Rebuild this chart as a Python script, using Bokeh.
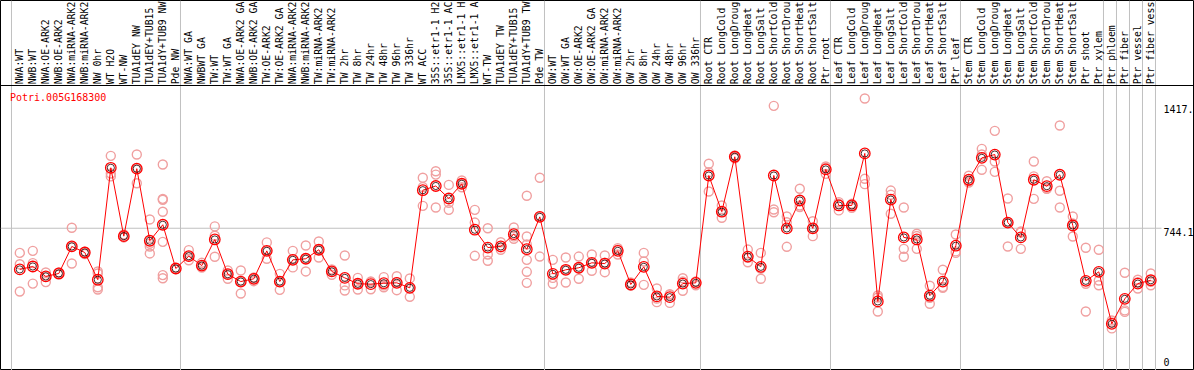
import math
from bokeh.plotting import figure
from bokeh.models import Range1d
from bokeh.core.properties import value
from bokeh.embed import file_html
from bokeh.resources import INLINE

# ---------------- data ----------------
gene = "Potri.005G168300"

# category labels as far as they are visible in the header
cats = [
    "NWA:WT", "NWB:WT", "NWA:OE-ARK2", "NWB:OE-ARK2", "NWA:miRNA-ARK2", "NWB:miRNA-ARK2",
    "NW 0hr", "WT H2O", "WT-NW", "TUA1dEY NW", "TUA1dEY+TUB15", "TUA1dY+TUB9 NW", "Pde NW",
    "NWA:WT GA", "NWBWT GA", "TW:WT", "TW:WT GA", "NWA:OE-ARK2 GA", "NWB:OE-ARK2 GA",
    "TW:OE-ARK2", "TW:OE-ARK2 GA", "NWA:miRNA-ARK2", "NWB:miRNA-ARK2", "TW:miRNA-ARK2",
    "TW:miRNA-ARK2", "TW 2hr", "TW 8hr", "TW 24hr", "TW 48hr", "TW 96hr", "TW 336hr", "WT ACC",
    "35S::etr1-1 H2", "35S::etr1-1 AC", "LMX5::etr1-1 H", "LMX5::etr1-1 A", "WT-TW",
    "TUA1dEY TW", "TUA1dEY+TUB15", "TUA1dY+TUB9 TW", "Pde TW",
    "OW:WT", "OW:WT GA", "OW:OE-ARK2", "OW:OE-ARK2 GA", "OW:miRNA-ARK2", "OW:miRNA-ARK2",
    "OW 2hr", "OW 8hr", "OW 24hr", "OW 48hr", "OW 96hr", "OW 336hr",
    "Root CTR", "Root LongCold", "Root LongDroug", "Root LongHeat", "Root LongSalt",
    "Root ShortCold", "Root ShortDrou", "Root ShortHeat", "Root ShortSalt", "Ptr root",
    "Leaf CTR", "Leaf LongCold", "Leaf LongDroug", "Leaf LongHeat", "Leaf LongSalt",
    "Leaf ShortCold", "Leaf ShortDrou", "Leaf ShortHeat", "Leaf ShortSalt", "Ptr leaf",
    "Stem CTR", "Stem LongCold", "Stem LongDroug", "Stem LongHeat", "Stem LongSalt",
    "Stem ShortCold", "Stem ShortDrou", "Stem ShortHeat", "Stem ShortSalt", "Ptr shoot",
    "Ptr xylem", "Ptr phloem", "Ptr fiber", "Ptr vessel", "Ptr fiber vess",
]

means = [
    520, 536, 482, 498, 645, 612, 464, 1073, 701, 1068, 676, 763, 525,
    592, 541, 683, 494, 454, 469, 621, 454, 572, 578, 627, 509, 474, 442, 440, 445, 447, 420,
    951, 974, 906, 986, 736, 639, 645, 712, 630, 806,
    496, 518, 529, 556, 552, 621, 438, 534, 373, 369, 443, 447,
    1031, 834, 1133, 590, 534, 1031, 743, 895, 743, 1064,
    868, 868, 1151, 346, 900, 694, 683, 377, 454, 649,
    1008, 1127, 1145, 775, 694, 1008, 973, 1035, 759, 458,
    507, 224, 360, 443, 461,
]

reps = [
    [610, 548, 400], [621, 554, 443], [503, 481, 451], [503, 496, 492], [747, 645, 552],
    [616, 612, 603], [509, 498, 423, 411], [1138, 1042, 1026], [710, 699, 694],
    [1145, 1068, 989], [792, 660, 645, 607], [1091, 904, 899, 834, 670, 489, 472], [528, 522],
    [625, 592, 570], [556, 541, 530], [754, 703, 589], [514, 494, 469], [514, 454, 389],
    [476, 469, 456], [667, 621, 578], [496, 454, 409], [621, 572, 531], [650, 578, 509],
    [672, 627, 585], [520, 509, 491], [596, 433, 405], [474, 442, 411], [454, 452, 412],
    [478, 434, 423], [483, 451, 407], [471, 418, 371], [1019, 968, 866], [1054, 1036, 857],
    [980, 883, 844], [1004, 986, 967], [844, 775, 594], [744, 601, 567], [668, 640, 627],
    [748, 700, 687], [921, 699, 656, 572, 507, 447], [1019, 806, 590],
    [572, 474, 442], [585, 518, 449], [590, 527, 469], [601, 554, 513], [596, 556, 505],
    [636, 627, 601], [449, 433, 432], [610, 563, 436], [416, 361, 342], [385, 383, 338],
    [472, 454, 404], [454, 453, 434],
    [1095, 1049, 944], [868, 832, 801], [1140, 1133, 1125], [628, 583, 559], [610, 524, 469],
    [1410, 846, 831], [808, 777, 643], [959, 868, 859], [782, 745, 701], [1080, 1074, 1040],
    [886, 877, 841], [877, 868, 855], [1450, 1013, 984], [378, 367, 291], [949, 926, 823],
    [857, 632, 589], [714, 702, 632], [431, 366, 333], [518, 425, 420], [710, 618, 610],
    [1030, 1000, 993], [1176, 1145, 1062], [1274, 1107, 1051], [906, 775, 645], [726, 721, 632],
    [1107, 1026, 904], [1000, 960, 959], [1303, 948, 857], [808, 770, 699], [638, 442, 291],
    [627, 460, 434], [242, 232, 199], [502, 297, 289], [464, 450, 416], [498, 452, 434],
]

group_starts = [0, 13, 41, 53, 63, 73, 84, 85, 86, 87, 88]
grid_value = 744.1
tick_values_top = [1417, 744.1]
tick_labels_top = ["1417.", "744.1"]
tick_values_bottom = [0]
tick_labels_bottom = ["0"]

# ---------------- layout ----------------
W, H = 1194, 370
PX = 13.0            # pixels per category
VPP = 5.4407         # data units per pixel (vertical)
x_lo = -19.3 / PX
x_hi = x_lo + W / PX
y_lo = -5.5 * VPP
y_hi = y_lo + H * VPP

def ypix(pix):       # data value at a pixel row counted from the top
    return y_hi - pix * VPP

def xpix(pix):
    return x_lo + pix / PX

n = len(cats)
idx = list(range(n))
FONT = value("DejaVu Sans Mono")

p = figure(width=W, height=H, x_range=Range1d(x_lo, x_hi), y_range=Range1d(y_lo, y_hi),
           output_backend="svg", toolbar_location=None, min_border=0,
           x_axis_location=None, y_axis_location=None)
p.grid.visible = False
p.outline_line_color = "black"
p.outline_line_width = 1
p.background_fill_color = "white"
p.border_fill_color = "white"

# group separators (full height)
gx = [g - 0.64 for g in group_starts]
p.segment(x0=gx, y0=[y_lo] * len(gx), x1=gx, y1=[y_hi] * len(gx), line_color="#c0c0c0", line_width=1)

# horizontal reference line
p.segment(x0=[x_lo], y0=[grid_value], x1=[n - 0.18], y1=[grid_value], line_color="#c0c0c0", line_width=1)

# header separator
p.segment(x0=[x_lo], y0=[ypix(85)], x1=[x_hi], y1=[ypix(85)], line_color="black", line_width=1)

# category labels (vertical)
p.text(x=idx, y=[ypix(83.8)] * n, text=cats, angle=math.pi / 2, text_align="left",
       text_baseline="middle", text_font=FONT, text_font_size="9.8px", text_color="black")

# replicate points
rx, ry = [], []
for i, r in enumerate(reps):
    for v in r:
        rx.append(i)
        ry.append(v)
p.scatter(rx, ry, marker="circle", size=9, fill_color=None, line_color="#f0a0a0", line_width=1.4)

# mean line + markers
p.line(idx, means, line_color="red", line_width=1)
p.scatter(idx, means, marker="circle", size=7.2, fill_color=None, line_color="#200000",
          line_width=0.9, line_alpha=0.9)
p.scatter(idx, means, marker="circle", size=10.5, fill_color=None, line_color="red", line_width=1.3)

# gene title
p.text(x=[xpix(9.5)], y=[ypix(96.5)], text=[gene], text_align="left", text_baseline="middle",
       text_font=FONT, text_font_size="10px", text_color="red")

# value labels at right
p.text(x=[xpix(1163)] * len(tick_values_top), y=tick_values_top, text=tick_labels_top,
       text_align="left", text_baseline="top", text_font=FONT, text_font_size="10px", text_color="black")
p.text(x=[xpix(1163)] * len(tick_values_bottom), y=tick_values_bottom, text=tick_labels_bottom,
       text_align="left", text_baseline="bottom", text_font=FONT, text_font_size="10px",
       text_color="black", y_offset=1)

html = file_html(p, INLINE, title=gene)
html = html.replace("</head>", "<style>html,body{margin:0;padding:0;overflow:hidden;}</style></head>", 1)
open("out.html", "w").write(html)
